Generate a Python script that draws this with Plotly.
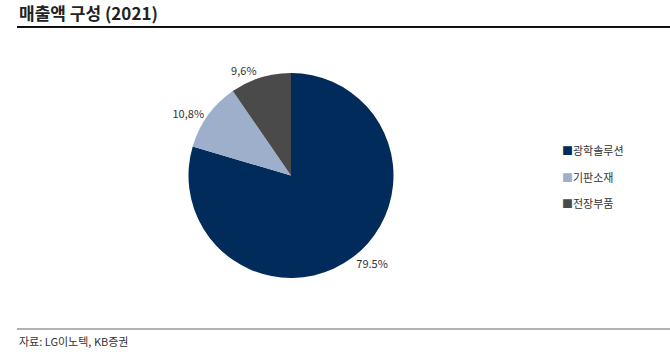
import plotly.graph_objects as go

categories = ["광학솔루션", "기판소재", "전장부품"]
values = [79.5, 10.8, 9.6]
value_labels = ["79.5%", "10,8%", "9,6%"]
colors = ["#002b5a", "#9eafcb", "#4a4a4a"]

FONT = "Noto Sans CJK KR, Noto Sans, sans-serif"

fig = go.Figure()
fig.add_trace(go.Pie(
    labels=categories,
    values=values,
    text=value_labels,
    textinfo="text",
    textposition="outside",
    textfont=dict(family=FONT, size=11, color="#333333"),
    marker=dict(colors=colors, line=dict(width=0)),
    sort=False,
    direction="clockwise",
    rotation=0,
    hoverinfo="label+percent",
    showlegend=False,
    domain=dict(x=[188/670, 394/670], y=[1-278/355, 1-73/355]),
))

legend_y = [150, 177, 203]
annotations = [
    dict(text="<b>매출액 구성 (2021)</b>", x=17/670, y=1-13/355, xref="paper", yref="paper",
         xanchor="left", yanchor="middle", showarrow=False,
         font=dict(family=FONT, size=17, color="#222222")),
    dict(text="자료: LG이노텍, KB증권", x=17/670, y=1-341/355, xref="paper", yref="paper",
         xanchor="left", yanchor="middle", showarrow=False,
         font=dict(family=FONT, size=11, color="#333333")),
]
for cat, col, ly in zip(categories, colors, legend_y):
    annotations.append(dict(
        text=f"<span style='color:{col}'>■</span>{cat}",
        x=560/670, y=1-ly/355, xref="paper", yref="paper",
        xanchor="left", yanchor="middle", showarrow=False,
        font=dict(family=FONT, size=11, color="#333333"),
    ))

fig.update_layout(
    width=670, height=355,
    margin=dict(l=0, r=0, t=0, b=0),
    paper_bgcolor="white",
    plot_bgcolor="white",
    font=dict(family=FONT, color="#333333"),
    showlegend=False,
    annotations=annotations,
    shapes=[
        dict(type="line", xref="paper", yref="paper", x0=17/670, x1=1, y0=1-27/355, y1=1-27/355,
             line=dict(color="#111111", width=2)),
        dict(type="line", xref="paper", yref="paper", x0=17/670, x1=1, y0=1-329/355, y1=1-329/355,
             line=dict(color="#666666", width=1)),
    ],
)

fig.write_html("out.html")
